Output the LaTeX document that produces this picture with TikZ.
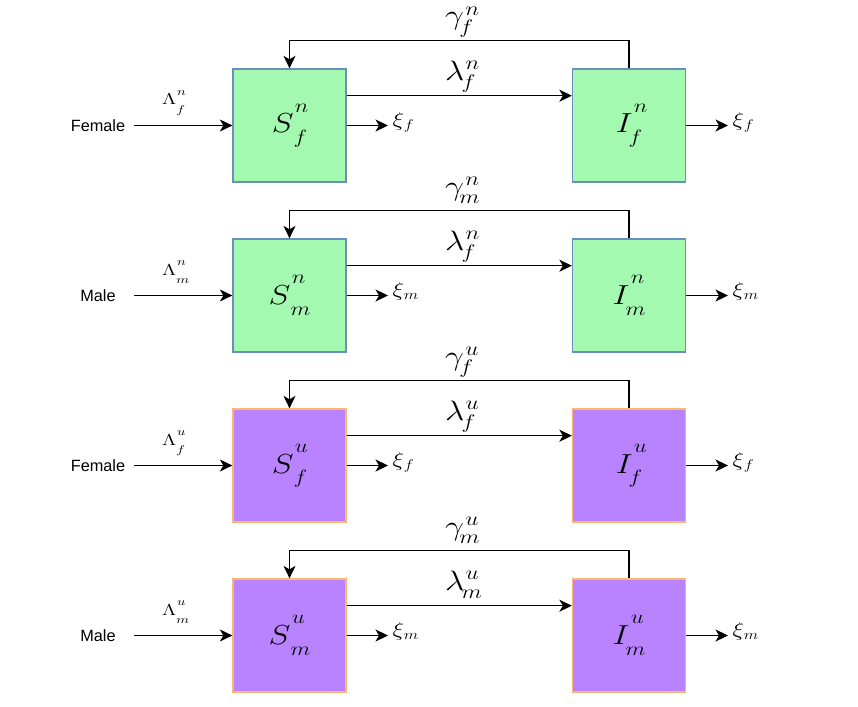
\RequirePackage{fix-cm}
\documentclass[tikz,border=0pt]{standalone}
\usepackage{graphicx}
\usepackage{fontspec}
\newfontfamily\labelsans{Liberation Sans}
\usetikzlibrary{arrows.meta}
\definecolor{gfill}{HTML}{A4F9B0}
\definecolor{gline}{HTML}{6C8EBF}
\definecolor{pfill}{HTML}{B983FF}
\definecolor{pline}{HTML}{FFB570}
% base, sup, sub, sup raise, sub lower, sub kern, horizontal stretch
\newcommand\mylab[7]{\scalebox{#7}[1]{$#1\rlap{\raisebox{#4}{$\scriptstyle\mkern1mu #2$}}\hspace{#6}\raisebox{-#5}{$\scriptstyle #3$}$}}
\newcommand\myxi[1]{\scalebox{1.2}[1]{$\xi_{\mkern1mu #1}$}}
\begin{document}
\begin{tikzpicture}[x=1pt,y=-1pt,
  arr/.style={line width=1.35pt,-{Stealth[length=12.5pt,width=12pt,inset=3.5pt]}},
  boxn/.style={draw=gline,fill=gfill,line width=1.3pt,minimum size=113pt,inner sep=0pt,font=\fontsize{27.5}{30}\selectfont},
  boxu/.style={draw=pline,fill=pfill,line width=1.3pt,minimum size=113pt,inner sep=0pt,font=\fontsize{27.5}{30}\selectfont},
  sexlabel/.style={font=\labelsans\fontsize{16.3}{18}\selectfont,inner sep=0pt},
  ratelabel/.style={font=\fontsize{28}{30}\selectfont,inner sep=0pt,anchor=base west},
  inlabel/.style={font=\fontsize{16}{18}\selectfont,inner sep=0pt,anchor=base west},
  outlabel/.style={font=\fontsize{20}{22}\selectfont,inner sep=0pt,anchor=base west}]
\useasboundingbox (0,0) rectangle (858,706);
\foreach \r/\st/\su/\sb/\lsb/\sex in {0/boxn/n/f/f/Female,1/boxn/n/m/f/Male,2/boxu/u/f/f/Female,3/boxu/u/m/m/Male}{
  \pgfmathsetmacro\cy{125.5+170*\r}
  \node[\st] (S\r) at (289.5,\cy) {\mylab{S}{\su}{\sb}{0.76em}{0.38em}{0pt}{1.2}};
  \node[\st] (I\r) at (629,\cy) {\mylab{I}{\su}{\sb}{0.76em}{0.38em}{-0.12em}{1.2}};
  \node[sexlabel] (X\r) at (98,\cy) {\sex};
  \coordinate (in\r) at (134,\cy);
  \draw[arr] (in\r) -- (S\r.west);
  \node[inlabel] (L\r) at (162,\cy-20.5) {\mylab{\Lambda}{\su}{\sb}{0.6em}{0.55em}{0pt}{1.3}};
  \coordinate (top\r) at (629,\cy-84.8);
  \draw[arr] (I\r.north) -- (top\r) -| (S\r.north);
  \node[ratelabel] (g\r) at (445,\cy-100.5) {\mylab{\gamma}{\su}{\sb}{0.34em}{0.3em}{-0.14em}{1.2}};
  \draw[arr] ([yshift=29.8pt]S\r.east) -- ([yshift=29.8pt]I\r.west);
  \node[ratelabel] (l\r) at (445,\cy-45) {\mylab{\lambda}{\su}{\lsb}{0.4em}{0.3em}{-0.08em}{1.2}};
  \node[outlabel] (xs\r) at (392.5,\cy+1) {\myxi{\sb}};
  \draw[arr] (S\r.east) -- ([xshift=-4.5pt]xs\r.west |- S\r.east);
  \node[outlabel] (xi\r) at (732.5,\cy+1) {\myxi{\sb}};
  \draw[arr] (I\r.east) -- ([xshift=-4.5pt]xi\r.west |- I\r.east);
}
\end{tikzpicture}
\end{document}
